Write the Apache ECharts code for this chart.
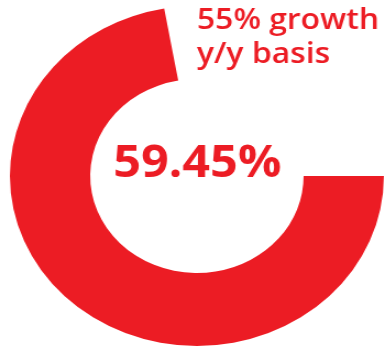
<!DOCTYPE html>
<html>
<head>
<meta charset="utf-8">
<script src="https://cdn.jsdelivr.net/npm/echarts@6/dist/echarts.min.js"></script>
<style>
    html, body { margin: 0; padding: 0; background: #fff; overflow: hidden; }
    /* the original picture is a bit wider than tall, so the whole chart is stretched */
    #chart { width: 353px; height: 349px; transform: scaleX(1.1); transform-origin: 0 0; }
</style>
</head>
<body>
<div id="chart"></div>
<script>
    // share of the ring that is filled vs the open gap
    const sliceNames = ['filled', 'gap'];
    const sliceValues = [72.2, 27.8];
    const centerText = '59.45%';
    const noteLines = ['55% growth', 'y/y basis'];

    const red = '#ec1c24';

    let myChart = echarts.init(document.getElementById('chart'));
    let option = {
        animation: false,
        title: [
            {
                text: centerText,
                left: 103,
                top: 142,
                padding: 0,
                textStyle: {
                    color: red,
                    fontFamily: 'Open Sans',
                    fontWeight: 'bold',
                    fontSize: 44,
                    lineHeight: 44
                }
            },
            {
                text: noteLines.join('\n'),
                left: 179,
                top: 4,
                padding: 0,
                textStyle: {
                    color: red,
                    fontFamily: 'Open Sans',
                    fontWeight: 600,
                    fontSize: 29,
                    lineHeight: 34
                }
            }
        ],
        series: [
            {
                type: 'pie',
                silent: true,
                center: [179, 176],
                radius: [97, 170],
                startAngle: 0,
                clockwise: true,
                label: {show: false},
                labelLine: {show: false},
                emphasis: {disabled: true},
                data: sliceNames.map((name, i) => ({
                    name: name,
                    value: sliceValues[i],
                    itemStyle: {color: i === 0 ? red : 'rgba(0,0,0,0)'}
                }))
            }
        ]
    };
    myChart.setOption(option);
</script>
</body>
</html>
